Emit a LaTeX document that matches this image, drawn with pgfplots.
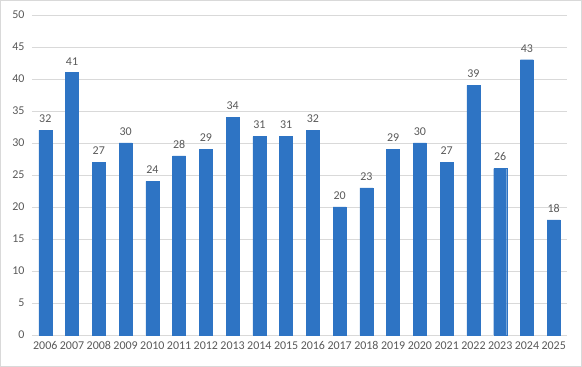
\documentclass[border=0pt]{standalone}
\usepackage{pgfplots}
\pgfplotsset{compat=1.18}
\usepackage{fontspec}
\setmainfont{Carlito}
\definecolor{barblue}{RGB}{46,116,196}
\definecolor{txtgray}{RGB}{89,89,89}
\definecolor{gridgray}{RGB}{217,217,217}
\begin{document}
\begin{tikzpicture}[x=1bp,y=1bp]
\draw[gridgray, line width=0.8bp] (0.5,0.5) rectangle (581.5,366.5);
\begin{axis}[
  at={(32bp,32bp)}, anchor=south west,
  scale only axis, width=535bp, height=320bp,
  xmin=-0.5, xmax=19.5, ymin=0, ymax=50,
  ytick={0,5,...,50},
  xtick={0,...,19},
  xticklabels={2006,2007,2008,2009,2010,2011,2012,2013,2014,2015,2016,2017,2018,2019,2020,2021,2022,2023,2024,2025},
  axis line style={draw=none},
  major tick length=0pt,
  ymajorgrids, grid style={gridgray, line width=0.8bp},
  ticklabel style={font=\fontsize{12}{14}\selectfont, text=txtgray},
  /pgf/number format/assume math mode=true,
  yticklabel style={xshift=-4bp},
  xticklabel style={yshift=-3bp, text height=8bp, text depth=0bp, anchor=north},
  extra y ticks={0}, extra y tick labels={},
  extra y tick style={grid style={gridgray, line width=1bp}},
  ybar, bar width=13bp,
  nodes near coords,
  every node near coord/.append style={font=\fontsize{12}{14}\selectfont, text=txtgray, yshift=4bp},
  clip=false,
]
\addplot[fill=barblue, draw=barblue, line width=0.4bp] coordinates {
(0,32) (1,41) (2,27) (3,30) (4,24) (5,28) (6,29) (7,34) (8,31) (9,31)
(10,32) (11,20) (12,23) (13,29) (14,30) (15,27) (16,39) (17,26) (18,43) (19,18)};
\end{axis}
\end{tikzpicture}
\end{document}
